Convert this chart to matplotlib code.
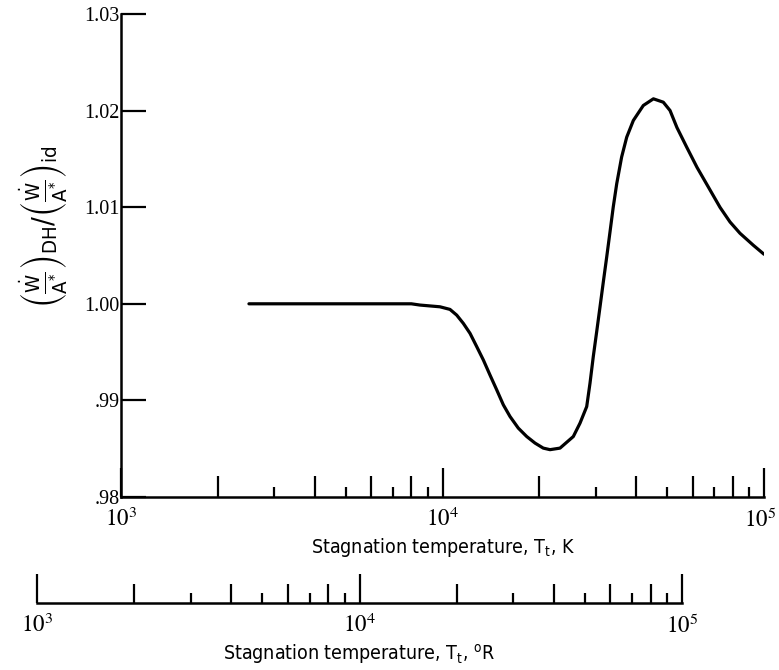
import matplotlib
matplotlib.use("Agg")
import matplotlib.pyplot as plt
import matplotlib.transforms as mtransforms
import numpy as np

# Stagnation temperature (K) and flow ratio
temp_k = [2500, 5000, 8000, 8510, 9820, 10550, 11070, 11610, 12180, 12780,
          13400, 14050, 14750, 15460, 16220, 17210, 18280, 19400, 20580,
          21600, 23200, 25520, 26770, 28090, 28760, 29440, 30170, 30900,
          31640, 32420, 33190, 33970, 34830, 36070, 37410, 39230, 42130,
          45290, 48620, 51020, 53600, 57480, 61900, 67120, 73000, 78400,
          84200, 92640, 100000]
ratio = [1.0000, 1.0000, 1.0000, 0.99987, 0.99969, 0.99942, 0.99883, 0.99797,
         0.99694, 0.99556, 0.99418, 0.99263, 0.99108, 0.98954, 0.98833,
         0.98713, 0.98626, 0.98558, 0.98506, 0.98490, 0.98506, 0.98626,
         0.98764, 0.98936, 0.99178, 0.99452, 0.99711, 0.99969, 1.00227,
         1.00486, 1.00744, 1.01002, 1.01244, 1.01519, 1.01725, 1.01898,
         1.02053, 1.02122, 1.02087, 1.02001, 1.01825, 1.01622, 1.01412,
         1.01209, 1.00998, 1.00847, 1.00730, 1.00606, 1.00513]

y_ticks = [0.98, 0.99, 1.00, 1.01, 1.02, 1.03]
y_tick_labels = ['.98', '.99', '1.00', '1.01', '1.02', '1.03']
decades = [1e3, 1e4, 1e5]
decade_labels = ['$10^{3}$', '$10^{4}$', '$10^{5}$']
minor_mult = [2, 3, 4, 5, 6, 7, 8, 9]

plt.rcParams['font.family'] = ['DejaVu Sans']
plt.rcParams['font.stretch'] = 'condensed'
plt.rcParams['mathtext.fontset'] = 'dejavusans'

W, H = 779, 670
fig = plt.figure(figsize=(W / 100, H / 100), dpi=100)


def px_axes(x0, y0, x1, y1):
    return fig.add_axes([x0 / W, 1 - y1 / H, (x1 - x0) / W, (y1 - y0) / H])


def log_ticks(ax, big, med, small):
    minor_vals = [m * d for d in decades[:-1] for m in minor_mult]
    ax.set_xticks(decades, decade_labels)
    ax.set_xticks(minor_vals, minor=True)
    ax.tick_params(axis='x', which='both', direction='in', width=1.6,
                   color='black')
    ax.tick_params(axis='x', which='major', length=big, pad=8,
                   labelsize=16.5)
    for lab in ax.get_xticklabels():
        lab.set_math_fontfamily('stix')
    for t, v in zip(ax.xaxis.get_minor_ticks(), minor_vals):
        m = round(v / 10 ** np.floor(np.log10(v)))
        t.tick1line.set_markersize(med if m % 2 == 0 else small)
        t.tick1line.set_markeredgewidth(1.6)


# main plot
ax = px_axes(121, 14, 764, 497)
ax.plot(temp_k, ratio, color='black', lw=2.3, solid_capstyle='round',
        solid_joinstyle='round')
ax.set_xscale('log')
ax.set_xlim(1e3, 1e5)
ax.set_ylim(0.98, 1.03)
for s in ['top', 'right']:
    ax.spines[s].set_visible(False)
for s in ['left', 'bottom']:
    ax.spines[s].set_linewidth(1.8)

ax.set_yticks(y_ticks, y_tick_labels)
ax.tick_params(axis='y', direction='in', length=18, width=1.6, pad=1)
for lab in ax.get_yticklabels():
    lab.set_fontfamily(['Liberation Serif', 'DejaVu Serif'])
    lab.set_fontsize(14.5)
log_ticks(ax, 21, 15, 7.5)
# last decade label sits at the right edge of the figure
last = ax.get_xticklabels()[-1]
last.set_transform(last.get_transform() +
                   mtransforms.ScaledTranslation(-4 / 100, 0, fig.dpi_scale_trans))

ax.set_xlabel('Stagnation temperature, T$_\\mathregular{t}$, K',
              fontsize=14, labelpad=3)
ax.set_ylabel(r'$\left(\frac{\dot{\mathrm{W}}}{\mathrm{A}^{*}}\right)_{\mathrm{DH}}/'
              r'\left(\frac{\dot{\mathrm{W}}}{\mathrm{A}^{*}}\right)_{\mathrm{id}}$',
              fontsize=21)
ax.yaxis.set_label_coords(-0.078, 0.56)

# Rankine scale below
ax2 = px_axes(37, 560, 682, 603)
ax2.set_xscale('log')
ax2.set_xlim(1e3, 1e5)
ax2.set_ylim(0, 1)
ax2.yaxis.set_visible(False)
for s in ['top', 'right', 'left']:
    ax2.spines[s].set_visible(False)
ax2.spines['bottom'].set_linewidth(1.8)
ax2.patch.set_visible(False)
log_ticks(ax2, 21, 14, 7.5)
ax2.set_xlabel('Stagnation temperature, T$_\\mathregular{t}$, $^\\mathregular{o}$R',
               fontsize=14, labelpad=3)

fig.savefig('out.png', dpi=100)
